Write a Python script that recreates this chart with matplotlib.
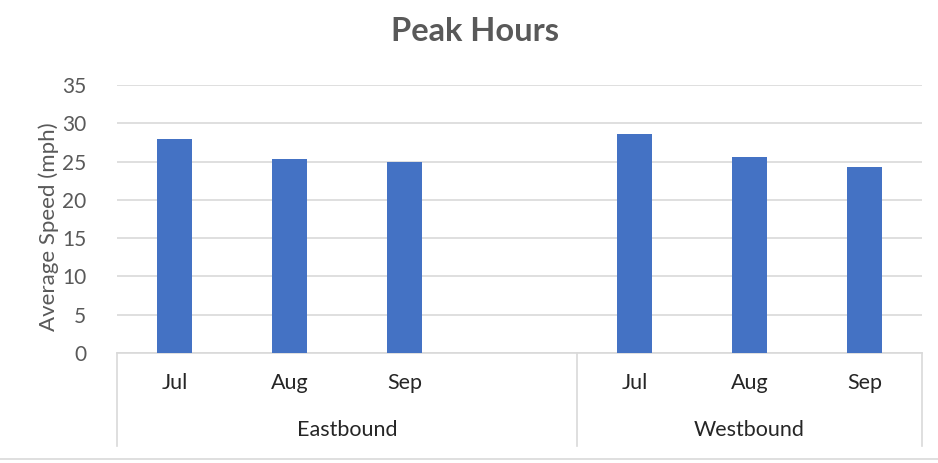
import matplotlib
matplotlib.use("Agg")
from matplotlib import pyplot as plt
from matplotlib.lines import Line2D

plt.rcParams['font.family'] = ['Lato', 'DejaVu Sans']

groups = ["Eastbound", "Westbound"]
months = ["Jul", "Aug", "Sep"]
eastbound = [28.0, 25.3, 24.9]
westbound = [28.6, 25.6, 24.3]

BAR_COLOR = "#4472C4"
GRID = "#d9d9d9"
GREY_TEXT = "#595959"
DARK_TEXT = "#262626"

fig = plt.figure(figsize=(9.38, 4.63), dpi=100)
ax = fig.add_axes([0.1247, 0.2376, 0.983 - 0.1247, 0.8164 - 0.2376])

# Excel leaves an empty slot after the first group
pos_east = [0, 1, 2]
pos_west = [4, 5, 6]
ax.bar(pos_east, eastbound, width=0.31, color=BAR_COLOR, zorder=3)
ax.bar(pos_west, westbound, width=0.31, color=BAR_COLOR, zorder=3)

ax.set_xlim(-0.5, 6.5)
ax.set_ylim(0, 35)
ax.set_yticks(range(0, 36, 5))
ax.yaxis.grid(True, color=GRID, linewidth=1.2, zorder=0)
ax.tick_params(axis='y', length=0, pad=22, labelsize=15, labelcolor=GREY_TEXT)
ax.set_xticks([])
for s in ["top", "right", "left"]:
    ax.spines[s].set_visible(False)
ax.spines["bottom"].set_color(GRID)
ax.spines["bottom"].set_linewidth(1.2)

ax.set_ylabel("Average Speed (mph)", fontsize=16, color=GREY_TEXT)
ax.yaxis.set_label_coords(-0.072, 0.47)

trans = ax.get_xaxis_transform()
for p, m in zip(pos_east + pos_west, months + months):
    ax.text(p, -0.112, m, transform=trans, ha='center', va='center',
            fontsize=15.5, color=DARK_TEXT)

for x0, x1, g in [(-0.5, 3.5, groups[0]), (3.5, 6.5, groups[1])]:
    ax.text((x0 + x1) / 2, -0.287, g, transform=trans, ha='center', va='center',
            fontsize=15.5, color=DARK_TEXT)

for xv in [-0.5, 3.5, 6.5]:
    ax.plot([xv, xv], [0, -0.347], transform=trans, color=GRID, linewidth=1.2,
            clip_on=False)

fig.text(0.506, 0.933, "Peak Hours", ha='center', va='center', fontsize=23.5,
         fontweight='bold', color=GREY_TEXT)

fig.add_artist(Line2D([0, 1], [1 - 459 / 463, 1 - 459 / 463], transform=fig.transFigure,
                      color=GRID, linewidth=1.2))

fig.savefig("out.png", dpi=100)
